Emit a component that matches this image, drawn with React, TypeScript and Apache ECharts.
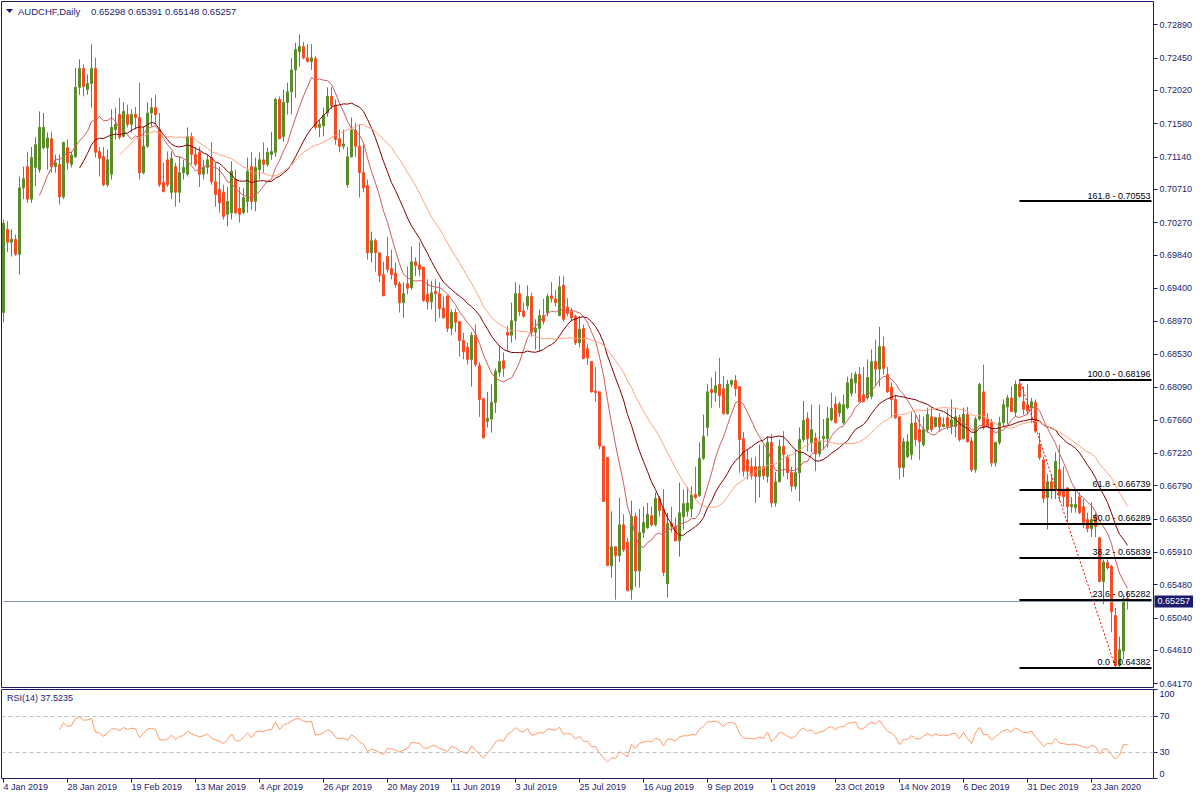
import React, { useEffect, useRef } from 'react';
import * as echarts from 'echarts';

const symbolName = 'AUDCHF,Daily';
const headerValues = '0.65298 0.65391 0.65148 0.65257';
const rsiReadout = 'RSI(14) 37.5235';

const dateLabels = [
  '4 Jan 2019', '28 Jan 2019', '19 Feb 2019', '13 Mar 2019', '4 Apr 2019', '26 Apr 2019',
  '20 May 2019', '11 Jun 2019', '3 Jul 2019', '25 Jul 2019', '16 Aug 2019', '9 Sep 2019',
  '1 Oct 2019', '23 Oct 2019', '14 Nov 2019', '6 Dec 2019', '31 Dec 2019', '23 Jan 2020',
];
const barsPerDateLabel = 16;

const priceTicks = [
  0.72890, 0.72450, 0.72020, 0.71580, 0.71140, 0.70710, 0.70270, 0.69840, 0.69400, 0.68970,
  0.68530, 0.68090, 0.67660, 0.67220, 0.66790, 0.66350, 0.65910, 0.65480, 0.65040, 0.64610, 0.64170,
];
const rsiTicks = [0, 30, 70, 100];
const rsiLevels = [70, 30];

const opens = [
  0.6908,0.7018,0.7001,0.7005,0.6985,0.7073,0.7101,0.7058,0.7100,0.7097,
  0.7126,0.7126,0.7138,0.7101,0.7104,0.7061,0.7126,0.7104,0.7114,0.7206,
  0.7231,0.7203,0.7211,0.7231,0.7121,0.7114,0.7077,0.7091,0.7150,0.7170,
  0.7141,0.7170,0.7157,0.7170,0.7166,0.7093,0.7128,0.7172,0.7179,0.7150,
  0.7080,0.7110,0.7067,0.7101,0.7067,0.7093,0.7091,0.7141,0.7117,0.7120,
  0.7091,0.7100,0.7113,0.7081,0.7071,0.7067,0.7038,0.7040,0.7084,0.7046,
  0.7040,0.7055,0.7101,0.7055,0.7097,0.7110,0.7104,0.7117,0.7120,0.7190,
  0.7141,0.7186,0.7200,0.7229,0.7253,0.7260,0.7245,0.7240,0.7244,0.7153,
  0.7155,0.7172,0.7194,0.7182,0.7138,0.7128,0.7077,0.7114,0.7149,0.7128,
  0.7093,0.7076,0.6987,0.7003,0.6987,0.6958,0.6982,0.6966,0.6960,0.6946,
  0.6921,0.6946,0.6941,0.6975,0.6971,0.6968,0.6932,0.6922,0.6936,0.6933,
  0.6914,0.6930,0.6887,0.6908,0.6896,0.6871,0.6862,0.6846,0.6878,0.6838,
  0.6794,0.6764,0.6767,0.6789,0.6829,0.6844,0.6882,0.6878,0.6897,0.6933,
  0.6910,0.6917,0.6929,0.6882,0.6887,0.6904,0.6908,0.6930,0.6926,0.6904,
  0.6944,0.6915,0.6909,0.6903,0.6868,0.6887,0.6860,0.6843,0.6804,0.6803,
  0.6731,0.6716,0.6573,0.6598,0.6586,0.6627,0.6604,0.6541,0.6638,0.6566,
  0.6617,0.6623,0.6639,0.6627,0.6662,0.6648,0.6549,0.6629,0.6625,0.6606,
  0.6638,0.6645,0.6648,0.6667,0.6666,0.6715,0.6756,0.6806,0.6802,0.6813,
  0.6807,0.6774,0.6813,0.6818,0.6810,0.6741,0.6713,0.6704,0.6704,0.6691,
  0.6704,0.6691,0.6736,0.6656,0.6684,0.6731,0.6716,0.6696,0.6678,0.6696,
  0.6740,0.6768,0.6736,0.6742,0.6721,0.6741,0.6741,0.6766,0.6787,0.6775,
  0.6762,0.6782,0.6801,0.6815,0.6826,0.6799,0.6795,0.6797,0.6843,0.6833,
  0.6863,0.6826,0.6809,0.6793,0.6770,0.6703,0.6717,0.6720,0.6762,0.6753,
  0.6733,0.6753,0.6770,0.6757,0.6769,0.6757,0.6769,0.6757,0.6757,0.6769,
  0.6741,0.6773,0.6738,0.6700,0.6767,0.6803,0.6767,0.6762,0.6709,0.6736,
  0.6762,0.6783,0.6795,0.6776,0.6813,0.6790,0.6786,0.6782,0.6789,0.6733,
  0.6713,0.6663,0.6684,0.6674,0.6700,0.6674,0.6676,0.6651,0.6650,0.6664,
  0.6651,0.6634,0.6622,0.6638,0.6610,0.6552,0.6577,0.6572,0.6507,0.6441,
  0.6460,0.65298,
];
const highs = [
  0.7031,0.7029,0.7018,0.7011,0.7088,0.7101,0.7120,0.7127,0.7140,0.7174,
  0.7172,0.7146,0.7147,0.7117,0.7117,0.7134,0.7137,0.7121,0.7232,0.7243,
  0.7236,0.7223,0.7263,0.7245,0.7127,0.7127,0.7124,0.7177,0.7179,0.7192,
  0.7186,0.7183,0.7177,0.7180,0.7212,0.7154,0.7186,0.7192,0.7196,0.7172,
  0.7106,0.7121,0.7121,0.7106,0.7114,0.7110,0.7153,0.7146,0.7127,0.7127,
  0.7110,0.7117,0.7133,0.7106,0.7101,0.7077,0.7074,0.7108,0.7097,0.7074,
  0.7073,0.7113,0.7120,0.7113,0.7120,0.7133,0.7126,0.7147,0.7192,0.7194,
  0.7203,0.7212,0.7245,0.7265,0.7276,0.7266,0.7263,0.7263,0.7247,0.7163,
  0.7179,0.7206,0.7206,0.7190,0.7150,0.7150,0.7127,0.7166,0.7159,0.7157,
  0.7130,0.7084,0.7015,0.7006,0.6988,0.6975,0.7008,0.6991,0.6974,0.6949,
  0.6948,0.6969,0.6995,0.6981,0.7001,0.6968,0.6952,0.6950,0.6952,0.6948,
  0.6929,0.6930,0.6912,0.6913,0.6896,0.6881,0.6868,0.6882,0.6892,0.6842,
  0.6794,0.6803,0.6813,0.6834,0.6864,0.6855,0.6890,0.6921,0.6948,0.6945,
  0.6921,0.6944,0.6934,0.6899,0.6912,0.6926,0.6933,0.6948,0.6938,0.6956,
  0.6956,0.6927,0.6914,0.6905,0.6903,0.6892,0.6866,0.6843,0.6836,0.6803,
  0.6731,0.6716,0.6645,0.6598,0.6663,0.6641,0.6610,0.6659,0.6643,0.6648,
  0.6651,0.6656,0.6651,0.6670,0.6665,0.6674,0.6643,0.6651,0.6637,0.6683,
  0.6674,0.6677,0.6678,0.6704,0.6736,0.6773,0.6813,0.6822,0.6830,0.6848,
  0.6824,0.6819,0.6819,0.6825,0.6810,0.6750,0.6727,0.6716,0.6717,0.6733,
  0.6733,0.6744,0.6747,0.6697,0.6740,0.6751,0.6720,0.6704,0.6727,0.6756,
  0.6791,0.6776,0.6786,0.6749,0.6786,0.6767,0.6783,0.6802,0.6797,0.6790,
  0.6799,0.6823,0.6828,0.6830,0.6836,0.6836,0.6846,0.6859,0.6872,0.6889,
  0.6876,0.6836,0.6815,0.6799,0.6770,0.6742,0.6747,0.6776,0.6773,0.6773,
  0.6770,0.6782,0.6782,0.6770,0.6775,0.6769,0.6780,0.6793,0.6782,0.6773,
  0.6782,0.6783,0.6743,0.6770,0.6815,0.6839,0.6775,0.6767,0.6737,0.6770,
  0.6793,0.6799,0.6810,0.6818,0.68196,0.6810,0.6813,0.6795,0.6793,0.6749,
  0.6717,0.6694,0.6694,0.6723,0.6733,0.6704,0.6676,0.6664,0.6674,0.6670,
  0.6661,0.6643,0.6657,0.6643,0.6611,0.6581,0.6581,0.6574,0.6517,0.6479,
  0.6535,0.65391,
];
const lows = [
  0.6895,0.6988,0.6982,0.6983,0.6958,0.7058,0.7053,0.7053,0.7075,0.7093,
  0.7124,0.7097,0.7093,0.7093,0.7051,0.7058,0.7097,0.7100,0.7113,0.7196,
  0.7194,0.7196,0.7179,0.7113,0.7088,0.7075,0.7074,0.7084,0.7137,0.7137,
  0.7140,0.7153,0.7146,0.7150,0.7084,0.7091,0.7126,0.7154,0.7157,0.7074,
  0.7067,0.7074,0.7058,0.7048,0.7053,0.7084,0.7088,0.7104,0.7101,0.7074,
  0.7084,0.7091,0.7077,0.7048,0.7040,0.7031,0.7022,0.7031,0.7038,0.7027,
  0.7038,0.7040,0.7044,0.7042,0.7084,0.7093,0.7101,0.7110,0.7114,0.7137,
  0.7134,0.7170,0.7170,0.7192,0.7233,0.7243,0.7239,0.7229,0.7150,0.7140,
  0.7141,0.7167,0.7177,0.7130,0.7120,0.7124,0.7073,0.7113,0.7114,0.7060,
  0.7067,0.6978,0.6974,0.6962,0.6948,0.6930,0.6961,0.6952,0.6941,0.6908,
  0.6901,0.6932,0.6938,0.6956,0.6956,0.6922,0.6912,0.6912,0.6896,0.6901,
  0.6900,0.6882,0.6878,0.6882,0.6850,0.6846,0.6839,0.6810,0.6836,0.6770,
  0.6742,0.6756,0.6749,0.6775,0.6823,0.6823,0.6856,0.6868,0.6872,0.6903,
  0.6901,0.6912,0.6876,0.6859,0.6856,0.6892,0.6903,0.6921,0.6916,0.6903,
  0.6896,0.6903,0.6896,0.6865,0.6862,0.6846,0.6839,0.6802,0.6790,0.6727,
  0.6658,0.6573,0.6557,0.6528,0.6578,0.6591,0.6539,0.6528,0.6545,0.6544,
  0.6610,0.6622,0.6625,0.6625,0.6638,0.6559,0.6531,0.6617,0.6605,0.6585,
  0.6621,0.6638,0.6637,0.6661,0.6664,0.6713,0.6744,0.6782,0.6790,0.6782,
  0.6773,0.6773,0.6809,0.6797,0.6696,0.6691,0.6687,0.6687,0.6656,0.6663,
  0.6687,0.6683,0.6650,0.6651,0.6683,0.6691,0.6687,0.6671,0.6674,0.6658,
  0.6737,0.6724,0.6723,0.6698,0.6717,0.6727,0.6729,0.6764,0.6762,0.6770,
  0.6760,0.6780,0.6797,0.6801,0.6789,0.6789,0.6793,0.6793,0.6810,0.6810,
  0.6826,0.6802,0.6769,0.6767,0.6687,0.6690,0.6716,0.6713,0.6731,0.6713,
  0.6731,0.6749,0.6750,0.6756,0.6750,0.6756,0.6753,0.6747,0.6743,0.6737,
  0.6740,0.6736,0.6697,0.6696,0.6765,0.6753,0.6756,0.6704,0.6704,0.6733,
  0.6757,0.6760,0.6777,0.6770,0.6795,0.6773,0.6773,0.6762,0.6749,0.6713,
  0.6656,0.6621,0.6661,0.6661,0.6658,0.6651,0.6630,0.6643,0.6643,0.6641,
  0.6623,0.6617,0.6611,0.6611,0.6551,0.6522,0.6568,0.6485,0.6439,0.64382,
  0.6449,0.65148,
];
const closes = [
  0.7026,0.7001,0.7005,0.6985,0.7073,0.7085,0.7058,0.7113,0.7130,0.7153,
  0.7153,0.7139,0.7101,0.7106,0.7061,0.7133,0.7106,0.7116,0.7206,0.7231,
  0.7207,0.7211,0.7231,0.7120,0.7112,0.7077,0.7110,0.7153,0.7157,0.7140,
  0.7174,0.7157,0.7170,0.7166,0.7093,0.7128,0.7172,0.7179,0.7170,0.7077,
  0.7068,0.7077,0.7112,0.7067,0.7093,0.7100,0.7141,0.7117,0.7104,0.7091,
  0.7100,0.7110,0.7081,0.7064,0.7053,0.7035,0.7055,0.7095,0.7040,0.7038,
  0.7060,0.7095,0.7055,0.7100,0.7110,0.7104,0.7120,0.7121,0.7190,0.7138,
  0.7186,0.7200,0.7229,0.7256,0.7260,0.7245,0.7240,0.7245,0.7153,0.7157,
  0.7169,0.7194,0.7182,0.7137,0.7128,0.7131,0.7114,0.7149,0.7128,0.7093,
  0.7073,0.6987,0.7003,0.6987,0.6957,0.6930,0.6965,0.6958,0.6945,0.6921,
  0.6933,0.6940,0.6975,0.6970,0.6965,0.6924,0.6922,0.6934,0.6933,0.6913,
  0.6901,0.6887,0.6908,0.6895,0.6871,0.6856,0.6846,0.6878,0.6839,0.6793,
  0.6742,0.6768,0.6789,0.6830,0.6843,0.6834,0.6878,0.6897,0.6933,0.6909,
  0.6903,0.6929,0.6882,0.6887,0.6904,0.6896,0.6929,0.6926,0.6921,0.6942,
  0.6899,0.6907,0.6901,0.6868,0.6886,0.6847,0.6848,0.6803,0.6802,0.6731,
  0.6658,0.6573,0.6598,0.6586,0.6627,0.6594,0.6540,0.6638,0.6566,0.6617,
  0.6630,0.6641,0.6627,0.6662,0.6646,0.6564,0.6629,0.6625,0.6606,0.6643,
  0.6655,0.6656,0.6667,0.6663,0.6715,0.6744,0.6803,0.6802,0.6811,0.6798,
  0.6774,0.6813,0.6818,0.6807,0.6740,0.6698,0.6698,0.6692,0.6691,0.6704,
  0.6692,0.6736,0.6656,0.6684,0.6731,0.6720,0.6696,0.6678,0.6696,0.6740,
  0.6765,0.6741,0.6753,0.6721,0.6737,0.6744,0.6768,0.6781,0.6762,0.6787,
  0.6786,0.6815,0.6820,0.6826,0.6790,0.6790,0.6822,0.6843,0.6833,0.6863,
  0.6834,0.6803,0.6793,0.6769,0.6703,0.6737,0.6737,0.6761,0.6740,0.6737,
  0.6753,0.6773,0.6753,0.6769,0.6757,0.6760,0.6757,0.6766,0.6770,0.6740,
  0.6773,0.6737,0.6700,0.6767,0.6813,0.6757,0.6757,0.6709,0.6736,0.6762,
  0.6786,0.6795,0.6777,0.6813,0.6797,0.6780,0.6778,0.6790,0.6751,0.6716,
  0.6662,0.6684,0.6674,0.6711,0.6666,0.6664,0.6651,0.6654,0.6654,0.6643,
  0.6630,0.6622,0.6634,0.6625,0.6552,0.6578,0.6570,0.6512,0.6441,0.6462,
  0.6529,0.65257,
];

const fibLevels = [161.8, 100.0, 61.8, 50.0, 38.2, 23.6, 0.0];
const fibPrices = [0.70553, 0.68196, 0.66739, 0.66289, 0.65839, 0.65282, 0.64382];
const fibStartBar = 254;
const trendStart = { bar: 254, price: 0.68196 };
const trendEnd = { bar: 278, price: 0.64382 };

const maPeriods = [10, 20, 30];
const rsiPeriod = 14;

function sma(src: number[], n: number): (number | string)[] {
  const out: (number | string)[] = [];
  let sum = 0;
  for (let i = 0; i < src.length; i++) {
    sum += src[i];
    if (i >= n) sum -= src[i - n];
    out.push(i >= n - 1 ? sum / n : '-');
  }
  return out;
}

function rsi(c: number[], n: number): (number | string)[] {
  const out: (number | string)[] = c.map(() => '-');
  let g = 0;
  let l = 0;
  for (let i = 1; i <= n; i++) {
    const d = c[i] - c[i - 1];
    if (d > 0) g += d; else l -= d;
  }
  g /= n; l /= n;
  out[n] = l === 0 ? 100 : 100 - 100 / (1 + g / l);
  for (let i = n + 1; i < c.length; i++) {
    const d = c[i] - c[i - 1];
    g = (g * (n - 1) + Math.max(d, 0)) / n;
    l = (l * (n - 1) + Math.max(-d, 0)) / n;
    out[i] = l === 0 ? 100 : 100 - 100 / (1 + g / l);
  }
  return out;
}

const FONT = 'Liberation Sans';
const NAVY = '#1b1b6e';
const BULL = '#5b8c2a';
const BEAR = '#f44c24';

export default function App() {
  const ref = useRef<HTMLDivElement>(null);

  useEffect(() => {
    if (!ref.current) return;
    const chart = echarts.init(ref.current, null, { renderer: 'svg' });

    const slots = closes.length + 6;
    const cats = Array.from({ length: slots }, (_, i) => String(i));
    const candleData = closes.map((c, i) => [opens[i], c, lows[i], highs[i]]);
    const last = closes.length - 1;
    const lastClose = closes[last];
    const dateIdx = (idx: number) => idx % barsPerDateLabel === 0 && idx / barsPerDateLabel < dateLabels.length;

    const fibMarks = fibLevels.map((lvl, k) => [
      {
        coord: [fibStartBar, fibPrices[k]],
        lineStyle: { color: '#000000', width: 2, type: 'solid' },
        label: {
          show: true,
          position: 'insideEndTop',
          formatter: `${lvl.toFixed(1)} - ${fibPrices[k].toFixed(5)}`,
          color: '#000000',
          fontSize: 9,
          fontFamily: FONT,
          distance: 1,
        },
      },
      { coord: [slots - 1, fibPrices[k]] },
    ]);

    const maColors = ['#cd5c5c', '#800000', '#ffa07a'];
    const maWidths = [1, 1, 1];

    const option: any = {
      animation: false,
      backgroundColor: '#ffffff',
      textStyle: { fontFamily: FONT },
      grid: [
        { left: 1.5, top: 1.5, width: 1152, height: 686, show: true, borderColor: NAVY, borderWidth: 1, containLabel: false, outerBoundsMode: 'none' },
        { left: 1.5, top: 689.5, width: 1152, height: 89, show: true, borderColor: NAVY, borderWidth: 1, containLabel: false, outerBoundsMode: 'none' },
      ],
      xAxis: [
        {
          type: 'category', gridIndex: 0, data: cats, boundaryGap: true,
          axisLine: { show: false }, axisTick: { show: false }, axisLabel: { show: false }, splitLine: { show: false },
        },
        {
          type: 'category', gridIndex: 1, data: cats, boundaryGap: true,
          axisLine: { show: false },
          axisTick: { show: true, alignWithLabel: true, interval: dateIdx, length: 4, lineStyle: { color: NAVY } },
          axisLabel: {
            interval: dateIdx,
            formatter: (_v: string, idx: number) => dateLabels[idx / barsPerDateLabel] ?? '',
            align: 'left', color: NAVY, fontSize: 9, fontFamily: FONT, margin: 4,
          },
          splitLine: { show: false },
        },
      ],
      yAxis: [
        {
          type: 'value', gridIndex: 0, position: 'right', min: 0.64118, max: 0.73195,
          splitLine: { show: false }, axisLine: { show: false },
          axisTick: { show: true, customValues: priceTicks, length: 4, lineStyle: { color: NAVY } },
          axisLabel: { customValues: priceTicks, formatter: (v: number) => v.toFixed(5), color: NAVY, fontSize: 9, fontFamily: FONT, margin: 6 },
        },
        {
          type: 'value', gridIndex: 1, position: 'right', min: 0, max: 100,
          splitLine: { show: false }, axisLine: { show: false },
          axisTick: { show: true, customValues: rsiTicks, length: 4, lineStyle: { color: NAVY } },
          axisLabel: {
            customValues: rsiTicks, color: NAVY, fontSize: 9, fontFamily: FONT, margin: 6,
            verticalAlignMaxLabel: 'top', verticalAlignMinLabel: 'bottom',
          },
        },
      ],
      series: [
        {
          type: 'candlestick', xAxisIndex: 0, yAxisIndex: 0, data: candleData, barWidth: 2,
          itemStyle: { color: BULL, color0: BEAR, borderColor: BULL, borderColor0: BEAR, borderWidth: 1 },
          markLine: {
            symbol: ['none', 'none'], silent: true, animation: false,
            data: [
              [
                {
                  coord: [0, lastClose],
                  lineStyle: { color: '#8797ad', width: 1, type: 'solid' },
                  label: {
                    show: true, position: 'end', formatter: lastClose.toFixed(5),
                    color: '#ffffff', backgroundColor: NAVY, padding: [2, 3, 1, 3],
                    fontSize: 9, fontFamily: FONT, distance: 3,
                  },
                },
                { coord: [slots - 1, lastClose] },
              ],
              ...fibMarks,
              [
                { coord: [trendStart.bar, trendStart.price], lineStyle: { color: '#ff0000', width: 1, type: [2, 2] }, label: { show: false } },
                { coord: [trendEnd.bar, trendEnd.price] },
              ],
            ],
          },
          z: 2,
        },
        ...maPeriods.map((p, k) => ({
          type: 'line', xAxisIndex: 0, yAxisIndex: 0, data: sma(closes, p),
          showSymbol: false, symbol: 'none', silent: true,
          lineStyle: { color: maColors[k], width: maWidths[k] }, z: 3,
        })),
        {
          type: 'line', xAxisIndex: 1, yAxisIndex: 1, data: rsi(closes, rsiPeriod),
          showSymbol: false, symbol: 'none', silent: true,
          lineStyle: { color: '#ff9966', width: 1 },
          markLine: {
            symbol: ['none', 'none'], silent: true, animation: false,
            label: { show: false },
            lineStyle: { color: '#c0c0c0', width: 1, type: [4, 3] },
            data: rsiLevels.map((v) => ({ yAxis: v })),
          },
        },
      ],
      graphic: [
        { type: 'polygon', shape: { points: [[6, 9], [13, 9], [9.5, 13]] }, style: { fill: NAVY } },
        {
          type: 'text', x: 18, y: 11,
          style: { text: symbolName, fill: NAVY, fontSize: 9.5, fontFamily: FONT, verticalAlign: 'middle' },
        },
        {
          type: 'text', x: 91, y: 11,
          style: { text: headerValues, fill: NAVY, fontSize: 9.5, fontFamily: FONT, verticalAlign: 'middle' },
        },
        {
          type: 'text', x: 7, y: 698,
          style: { text: rsiReadout, fill: NAVY, fontSize: 9, fontFamily: FONT, verticalAlign: 'middle' },
        },
      ],
    };

    chart.setOption(option);
    return () => chart.dispose();
  }, []);

  return <div ref={ref} style={{ position: 'absolute', left: 0, top: 0, width: 1200, height: 800 }} />;
}
